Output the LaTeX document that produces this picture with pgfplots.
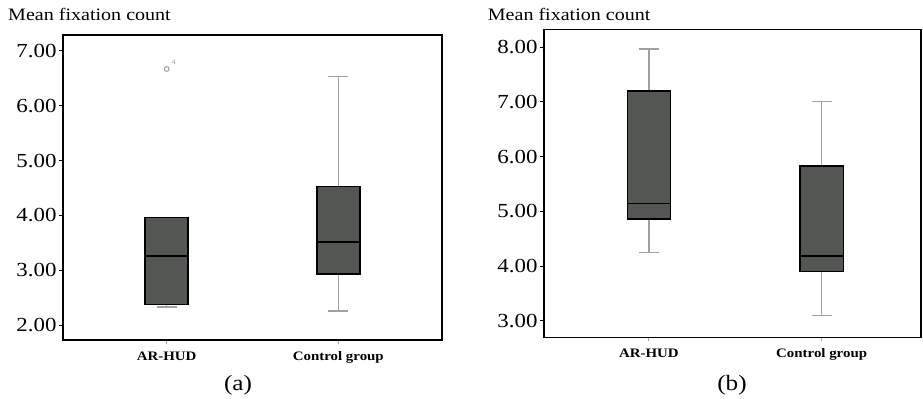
\documentclass[border=0pt]{standalone}
\usepackage{fontspec}
\setmainfont{Liberation Serif}[FakeStretch=1.15]
\usepackage{pgfplots}
\pgfplotsset{compat=1.18}
\usepgfplotslibrary{statistics}
\definecolor{boxfill}{HTML}{545654}
\definecolor{whisk}{HTML}{A0A0A0}
\pgfplotsset{
 myaxis/.style={
  scale only axis,
  axis line style={black, line width=1.4bp},
  xmin=0.396, xmax=2.604,
  xtick={1,2}, xticklabels={AR-HUD, Control group},
  x tick label style={font=\fontsize{13}{13}\selectfont\bfseries, yshift=-4bp},
  y tick label style={font=\fontsize{20}{20}\selectfont, xshift=1bp},
  yticklabel style={/pgf/number format/.cd, fixed, fixed zerofill, precision=2, assume math mode=true},
  tick align=outside,
  tick pos=left,
  major tick length=4bp,
  xtick style={whisk, line width=1bp},
  ytick style={black, line width=1bp},
  boxplot/draw direction=y,
  boxplot/box extend=0.25,
  boxplot/whisker extend=0.116,
  boxplot/every box/.style={draw=black, line width=1.5bp, fill=boxfill},
  boxplot/every whisker/.style={whisk, line width=1.3bp},
  boxplot/every median/.style={black, line width=1.6bp},
 }
}
\begin{document}
\begin{tikzpicture}
\path[use as bounding box] (0bp,0bp) rectangle (923bp,399bp);
% panel (a)
\begin{axis}[myaxis, at={(63bp,59bp)}, anchor=south west, width=379bp, height=305bp,
  ymin=1.73, ymax=7.29, ytick={2,3,4,5,6,7}]
\addplot+[boxplot prepared={draw direction=y, lower whisker=2.33, lower quartile=2.38, median=3.26, upper quartile=3.96, upper whisker=3.96, draw position=1}, draw=black, fill=boxfill, mark=none] coordinates {};
\addplot+[boxplot prepared={draw direction=y, lower whisker=2.26, lower quartile=2.93, median=3.52, upper quartile=4.53, upper whisker=6.53, draw position=2}, draw=black, fill=boxfill, mark=none] coordinates {};
\addplot[only marks, mark=o, mark size=2.4bp, draw=whisk, line width=1bp] coordinates {(1,6.67)};
\node[font=\fontsize{7}{7}\selectfont, text=whisk, inner sep=0pt] at (axis cs:1.04,6.80) {4};
\end{axis}
% panel (b)
\begin{axis}[myaxis, at={(544bp,61.7bp)}, anchor=south west, width=377bp, height=307.6bp,
  xmin=0.393, xmax=2.575,
  ymin=2.70, ymax=8.32, ytick={3,4,5,6,7,8}]
\addplot+[boxplot prepared={draw direction=y, lower whisker=4.245, lower quartile=4.86, median=5.145, upper quartile=7.20, upper whisker=7.97, draw position=1}, draw=black, fill=boxfill, mark=none] coordinates {};
\addplot+[boxplot prepared={draw direction=y, lower whisker=3.10, lower quartile=3.90, median=4.19, upper quartile=5.83, upper whisker=7.01, draw position=2}, draw=black, fill=boxfill, mark=none] coordinates {};
\end{axis}
\node[anchor=base west, font=\fontsize{17.5}{18}\selectfont, inner sep=0pt] at (8bp,378.3bp) {Mean fixation count};
\node[anchor=base west, font=\fontsize{17.5}{18}\selectfont, inner sep=0pt] at (487.7bp,378.3bp) {Mean fixation count};
\node[font=\fontsize{22}{22}\selectfont, inner sep=0pt] at (238bp,14bp) {(a)};
\node[font=\fontsize{22}{22}\selectfont, inner sep=0pt] at (732bp,14bp) {(b)};
\end{tikzpicture}
\end{document}
